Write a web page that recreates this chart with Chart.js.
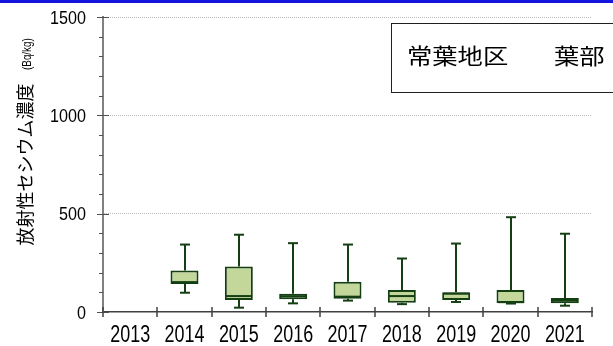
<!DOCTYPE html>
<html>
<head>
<meta charset="utf-8">
<script src="https://cdn.jsdelivr.net/npm/chart.js@4/dist/chart.umd.min.js"></script>
<style>
  html, body { margin: 0; padding: 0; background: #ffffff; overflow: hidden; }
  canvas { display: block; }
</style>
</head>
<body>
<canvas id="c" width="613" height="346"></canvas>
<script>
// Survey years and the five-number summary of each year's samples (Bq/kg)
const years = ['2013', '2014', '2015', '2016', '2017', '2018', '2019', '2020', '2021'];
const whiskerMax    = [null, 343, 393, 350, 343, 272, 348, 482, 398];
const upperQuartile = [null, 211, 231,  93, 154, 112, 100, 112,  71];
const medianValue   = [null, 152,  81,  80,  78,  81,  93,  50,  58];
const lowerQuartile = [null, 143,  61,  65,  68,  47,  61,  46,  44];
const whiskerMin    = [null,  98,  22,  44,  58,  40,  51,  43,  32];

// Value axis: labelled ticks and the minor step between them
const yTickLabels = [0, 500, 1000, 1500];
const minorStep = 100;

const chartTitle = ['常葉地区', '葉部'];
const axisTitle = ['放射性セシウム濃度', '(Bq/kg)'];

const BOX_FILL = '#c4d79b';
const BOX_EDGE = '#133f13';
const NUM_FONT = '"Liberation Sans", Arial, sans-serif';
const JP_FONT = '"Noto Sans CJK JP", sans-serif';

// Whiskers, caps and median lines on top of the floating quartile bars
const boxPlotParts = {
  id: 'boxPlotParts',
  afterDatasetsDraw(chart) {
    const { ctx, scales: { x, y } } = chart;
    const meta = chart.getDatasetMeta(0);
    const seg = (x1, y1, x2, y2) => { ctx.beginPath(); ctx.moveTo(x1, y1); ctx.lineTo(x2, y2); ctx.stroke(); };
    ctx.save();
    ctx.strokeStyle = BOX_EDGE;
    ctx.lineWidth = 2;
    years.forEach((yr, i) => {
      if (whiskerMax[i] == null) return;
      const cx = Math.round(x.getPixelForValue(i));
      const half = meta.data[i].width / 2;
      const yMax = y.getPixelForValue(whiskerMax[i]);
      const yQ3 = y.getPixelForValue(upperQuartile[i]);
      const yMed = y.getPixelForValue(medianValue[i]);
      const yQ1 = y.getPixelForValue(lowerQuartile[i]);
      const yMin = y.getPixelForValue(whiskerMin[i]);
      seg(cx, yQ3, cx, yMax);
      seg(cx, yQ1, cx, yMin);
      seg(cx - 5, yMax, cx + 5, yMax);
      seg(cx - 5, yMin, cx + 5, yMin);
      seg(cx - half + 1, yMed, cx + half - 1, yMed);
    });
    ctx.restore();
  }
};

// Condensed text helper: draws a real string squeezed horizontally
function squeezedText(ctx, text, px, py, sx, font, align, baseline) {
  ctx.save();
  ctx.font = font;
  ctx.textAlign = align;
  ctx.textBaseline = baseline;
  ctx.translate(px, py);
  ctx.scale(sx, 1);
  ctx.fillText(text, 0, 0);
  ctx.restore();
}

// Tick marks, tick labels, axis title, the framed heading and the top rule
const decorations = {
  id: 'decorations',
  afterDraw(chart) {
    const { ctx, scales: { x, y } } = chart;
    const seg = (x1, y1, x2, y2) => { ctx.beginPath(); ctx.moveTo(x1, y1); ctx.lineTo(x2, y2); ctx.stroke(); };
    ctx.save();
    ctx.fillStyle = '#000';

    // value-axis ticks: long ones at labels, short ones between
    const ax = x.left;
    ctx.strokeStyle = '#505050';
    ctx.lineWidth = 1;
    for (let v = 0; v <= 1500; v += minorStep) {
      const py = Math.round(y.getPixelForValue(v)) + 0.5;
      if (yTickLabels.includes(v)) seg(ax - 6, py, ax + 6, py);
      else seg(ax - 4, py, ax, py);
    }
    yTickLabels.forEach(v => {
      squeezedText(ctx, String(v), ax - 17, y.getPixelForValue(v) + 6.8, 0.85,
        '19px ' + NUM_FONT, 'right', 'alphabetic');
    });

    // category boundaries and year labels on the bottom axis
    const by = y.getPixelForValue(0);
    ctx.strokeStyle = '#404040';
    ctx.lineWidth = 1.5;
    for (let i = 0; i <= years.length; i++) {
      const px = Math.round(x.getPixelForValue(i - 0.5));
      seg(px, by - 5, px, by + 5);
    }
    years.forEach((yr, i) => {
      squeezedText(ctx, yr, x.getPixelForValue(i), 342, 0.78,
        '23px ' + NUM_FONT, 'center', 'alphabetic');
    });

    // rotated axis title
    ctx.save();
    ctx.translate(25, 164.5);
    ctx.rotate(-Math.PI / 2);
    ctx.font = '18px ' + JP_FONT;
    ctx.textAlign = 'center';
    ctx.textBaseline = 'middle';
    ctx.fillText(axisTitle[0], 0, 0);
    ctx.restore();
    ctx.save();
    ctx.translate(31, 70);
    ctx.rotate(-Math.PI / 2);
    ctx.scale(0.76, 1);
    ctx.font = '13px ' + NUM_FONT;
    ctx.textAlign = 'left';
    ctx.textBaseline = 'alphabetic';
    ctx.fillText(axisTitle[1], 0, 0);
    ctx.restore();

    // framed heading, running off the right edge
    ctx.fillStyle = '#ffffff';
    ctx.fillRect(391.5, 23.5, 260, 69);
    ctx.strokeStyle = '#202020';
    ctx.lineWidth = 1;
    ctx.strokeRect(391.5, 23.5, 260, 69);
    ctx.save();
    ctx.fillStyle = '#000';
    ctx.font = '22px ' + JP_FONT;
    ctx.textBaseline = 'middle';
    ctx.translate(407, 56);
    ctx.scale(1.15, 1);
    ctx.fillText(chartTitle[0], 0, 0);
    ctx.fillText(chartTitle[1], (554 - 407) / 1.15, 0);
    ctx.restore();

    // blue rule along the top edge
    ctx.fillStyle = '#1414dc';
    ctx.fillRect(0, 0, chart.width, 3);
    ctx.restore();
  }
};

new Chart(document.getElementById('c'), {
  type: 'bar',
  data: {
    labels: years,
    datasets: [{
      data: years.map((_, i) => lowerQuartile[i] == null ? null : [lowerQuartile[i], upperQuartile[i]]),
      backgroundColor: BOX_FILL,
      borderColor: BOX_EDGE,
      borderWidth: 2,
      borderSkipped: false,
      barPercentage: 0.515,
      categoryPercentage: 1
    }]
  },
  options: {
    responsive: false,
    devicePixelRatio: 1,
    animation: false,
    layout: { padding: { top: 17, right: 21, left: 0, bottom: 0 } },
    plugins: { legend: { display: false }, tooltip: { enabled: false }, title: { display: false } },
    scales: {
      x: {
        offset: true,
        afterFit: (s) => { s.height = 34; },
        grid: { display: false, drawTicks: false },
        border: { display: true, color: '#404040', width: 1.5 },
        ticks: { display: false }
      },
      y: {
        min: 0,
        max: 1500,
        afterFit: (s) => { s.width = 103; },
        afterBuildTicks: (s) => { s.ticks = yTickLabels.map(v => ({ value: v })); },
        grid: {
          drawTicks: false,
          color: (c) => (c.tick && c.tick.value === 0) ? 'rgba(0,0,0,0)' : '#bdbdbd',
          lineWidth: 1
        },
        border: { display: true, color: '#808080', width: 2, dash: [1, 1] },
        ticks: { display: false }
      }
    }
  },
  plugins: [boxPlotParts, decorations]
});
</script>
</body>
</html>
